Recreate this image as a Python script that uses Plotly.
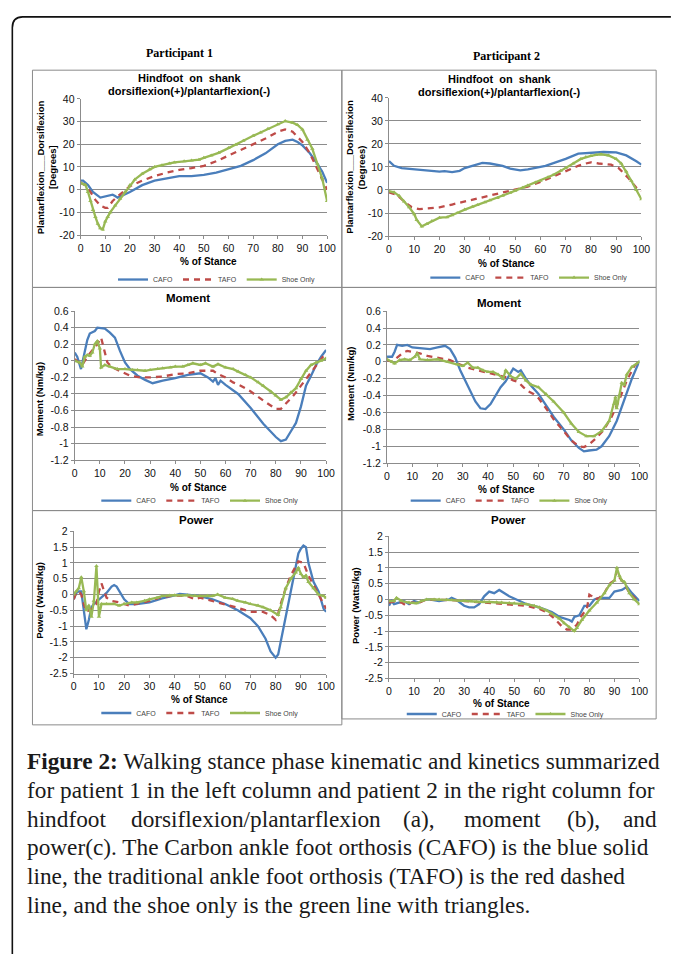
import plotly.graph_objects as go

W, H = 673, 956

# ---------------- DATA ----------------
SERIES_NAMES = ["CAFO", "TAFO", "Shoe Only"]
X_TICKS = [0, 10, 20, 30, 40, 50, 60, 70, 80, 90, 100]
X_TICK_TEXT = ["0", "10", "20", "30", "40", "50", "60", "70", "80", "90", "100"]
ANGLE_TICKS = [-20, -10, 0, 10, 20, 30, 40]
ANGLE_TICK_TEXT = ["-20", "-10", "0", "10", "20", "30", "40"]
MOMENT_TICKS = [-1.2, -1.0, -0.8, -0.6, -0.4, -0.2, 0, 0.2, 0.4, 0.6]
MOMENT_TICK_TEXT = ["-1.2", "-1", "-0.8", "-0.6", "-0.4", "-0.2", "0", "0.2", "0.4", "0.6"]
POWER_TICKS = [-2.5, -2, -1.5, -1, -0.5, 0, 0.5, 1, 1.5, 2]
POWER_TICK_TEXT = ["-2.5", "-2", "-1.5", "-1", "-0.5", "0", "0.5", "1", "1.5", "2"]

# Participant 1 - hindfoot angle
P1_ANG_CAFO_X = [0, 1, 3, 5, 8, 10, 12, 13, 14, 15, 17, 20, 25, 30, 35, 40, 45, 50, 55, 60, 65, 70, 75, 80, 83, 86, 88, 90, 93, 96, 98, 100]
P1_ANG_CAFO_Y = [4, 4, 2, -1, -3.5, -3, -2.5, -2.2, -2.8, -3.5, -2.5, -1, 2, 4, 5, 6, 6, 6.5, 7.5, 9, 10.5, 13, 16, 20, 21.5, 22, 21, 19.5, 16, 11.5, 8, 3]
P1_ANG_TAFO_X = [0, 2, 4, 6, 8, 10, 11, 13, 15, 18, 20, 25, 30, 35, 40, 45, 50, 55, 60, 65, 70, 75, 80, 83, 86, 90, 93, 96, 98, 100]
P1_ANG_TAFO_Y = [3, 2, -1, -4.5, -7, -8, -8, -5, -3, -0.5, 1.5, 4, 6, 7.5, 8.7, 9.5, 10.5, 12.5, 15, 17.5, 20, 22.5, 25.5, 26.5, 25.5, 21, 16, 9, 4, 0]
P1_ANG_SHOE_X = [0, 2, 3, 4, 5, 6, 7, 8, 9, 10, 11, 12, 14, 16, 18, 20, 22, 25, 28, 30, 33, 36, 38, 42, 45, 48, 50, 53, 56, 60, 63, 66, 70, 73, 76, 80, 83, 86, 88, 90, 92, 94, 96, 98, 100]
P1_ANG_SHOE_Y = [3, 2, -1, -5, -9, -12, -15, -17, -17.5, -14, -12, -10, -7, -4, -1, 2, 4.5, 7, 9, 10, 10.8, 11.5, 12, 12.5, 12.8, 13.2, 14, 15, 16.2, 18.3, 19.8, 21.5, 23.7, 25.2, 26.8, 28.8, 30.2, 29.5, 28.5, 26.5, 22, 18, 11.5, 5, -5]

# Participant 2 - hindfoot angle
P2_ANG_CAFO_X = [0, 2, 5, 10, 15, 20, 22, 25, 28, 30, 33, 37, 40, 45, 48, 52, 55, 58, 62, 66, 70, 75, 80, 85, 90, 94, 98, 100]
P2_ANG_CAFO_Y = [12.5, 10.5, 9.5, 9, 8.3, 8, 8.2, 7.8, 8.3, 9.5, 10.5, 11.8, 11.5, 10.5, 9.3, 8.5, 9, 9.7, 10.5, 12, 13.5, 15.8, 16.2, 16.5, 16.3, 15, 12.5, 11]
P2_ANG_TAFO_X = [0, 3, 6, 9, 12, 16, 20, 25, 30, 35, 40, 45, 48, 50, 55, 60, 65, 70, 75, 78, 80, 83, 88, 91, 95, 98, 100]
P2_ANG_TAFO_Y = [-1, -2, -5, -7.5, -8.3, -8, -7.5, -6.3, -5, -3.8, -2.5, -1, -0.5, 0, 1.5, 3.5, 5.8, 8.3, 10.5, 11.5, 12, 11.5, 11, 9.5, 5, 1, -0.5]
P2_ANG_SHOE_X = [0, 2, 4, 6, 8, 10, 11, 13, 15, 17, 20, 23, 25, 27, 30, 33, 35, 38, 40, 43, 45, 48, 50, 53, 55, 58, 60, 63, 65, 68, 70, 73, 76, 78, 80, 82, 84, 87, 90, 92, 94, 96, 98, 100]
P2_ANG_SHOE_Y = [-0.5, -1, -2.5, -5, -7.5, -10.5, -13, -15.8, -14.8, -13.5, -12, -11.8, -11, -10, -8.5, -7.3, -6.5, -5.3, -4.5, -3.5, -2.5, -1.2, -0.3, 1, 2, 3.2, 4, 5.5, 6.5, 8.3, 9.5, 11.5, 13.5, 14.3, 14.8, 15.2, 15.5, 15, 13.5, 11.5, 8, 4, 0, -4]

# Participant 1 - moment
P1_MOM_CAFO_X = [0, 1, 2.5, 4, 5, 6, 8, 9, 12, 14, 16, 18, 20, 22, 25, 28, 31, 35, 40, 45, 48, 50, 53, 55, 56, 57, 58, 60, 65, 70, 75, 80, 82, 84, 86, 88, 90, 92, 94, 96, 98, 100]
P1_MOM_CAFO_Y = [0.1, 0.05, -0.1, 0.1, 0.25, 0.33, 0.36, 0.4, 0.39, 0.34, 0.28, 0.12, -0.02, -0.1, -0.18, -0.23, -0.27, -0.24, -0.21, -0.17, -0.16, -0.15, -0.2, -0.25, -0.21, -0.29, -0.24, -0.29, -0.4, -0.57, -0.76, -0.92, -0.97, -0.95, -0.85, -0.75, -0.55, -0.3, -0.18, -0.05, 0.05, 0.13]
P1_MOM_TAFO_X = [0, 2, 3, 5, 7, 9, 10.5, 12, 13, 15, 18, 22, 26, 30, 35, 40, 45, 50, 55, 57, 60, 63, 66, 70, 75, 80, 82, 84, 87, 90, 93, 96, 100]
P1_MOM_TAFO_Y = [0.02, -0.03, -0.05, 0.05, 0.12, 0.2, 0.28, 0.1, -0.02, -0.08, -0.12, -0.18, -0.2, -0.2, -0.19, -0.16, -0.15, -0.12, -0.12, -0.16, -0.2, -0.26, -0.3, -0.37, -0.48, -0.58, -0.58, -0.52, -0.42, -0.3, -0.18, -0.05, 0.1]
P1_MOM_SHOE_X = [0, 2, 3, 4, 5, 6, 7, 8, 9, 10, 10.5, 12, 14, 17, 20, 23, 25, 28, 30, 33, 35, 38, 40, 43, 45, 47, 50, 52, 55, 57, 60, 63, 65, 68, 70, 73, 75, 78, 80, 82, 84, 86, 88, 90, 92, 94, 96, 98, 100]
P1_MOM_SHOE_Y = [0.0, -0.02, -0.07, 0.05, 0.07, 0.06, 0.1, 0.2, 0.24, 0.15, -0.08, -0.05, -0.07, -0.1, -0.1, -0.11, -0.11, -0.12, -0.11, -0.1, -0.09, -0.08, -0.07, -0.07, -0.05, -0.03, -0.05, -0.03, -0.07, -0.04, -0.08, -0.1, -0.13, -0.17, -0.2, -0.26, -0.3, -0.37, -0.42, -0.47, -0.44, -0.38, -0.33, -0.22, -0.12, -0.05, -0.02, 0.0, 0.03]

# Participant 2 - moment
P2_MOM_CAFO_X = [0, 2, 3, 4, 6, 8, 10, 14, 17, 20, 23, 25, 27, 29, 31, 33, 35, 37, 39, 41, 43, 45, 47, 49, 50, 52, 53, 55, 57, 60, 63, 66, 70, 73, 76, 78, 80, 83, 85, 88, 91, 94, 97, 100]
P2_MOM_CAFO_Y = [0.06, 0.06, 0.12, 0.2, 0.19, 0.2, 0.17, 0.16, 0.15, 0.17, 0.19, 0.15, 0.05, -0.1, -0.22, -0.35, -0.47, -0.55, -0.56, -0.5, -0.4, -0.3, -0.23, -0.13, -0.08, -0.12, -0.1, -0.2, -0.28, -0.38, -0.52, -0.65, -0.8, -0.93, -1.02, -1.06, -1.05, -1.04, -1.0, -0.88, -0.7, -0.45, -0.2, 0.01]
P2_MOM_TAFO_X = [0, 2, 4, 6, 8, 10, 13, 16, 20, 25, 28, 32, 36, 40, 45, 48, 50, 52, 54, 56, 58, 60, 63, 66, 70, 73, 76, 78, 80, 83, 86, 89, 92, 95, 98, 100]
P2_MOM_TAFO_Y = [0.02, 0.0, 0.05, 0.1, 0.13, 0.12, 0.1, 0.07, 0.05, 0.02, -0.02, -0.07, -0.1, -0.13, -0.16, -0.19, -0.22, -0.24, -0.3, -0.35, -0.38, -0.43, -0.55, -0.68, -0.82, -0.93, -1.0, -1.01, -0.98, -0.9, -0.8, -0.65, -0.45, -0.22, -0.05, 0.01]
P2_MOM_SHOE_X = [0, 2, 3, 5, 7, 9, 11, 12, 13, 16, 20, 24, 28, 30, 32, 34, 36, 38, 40, 42, 44, 46, 47, 49, 51, 53, 55, 57, 60, 63, 66, 70, 73, 76, 79, 82, 85, 88, 90, 90.5, 91, 92, 93, 94, 95, 97, 100]
P2_MOM_SHOE_Y = [0.03, 0.0, -0.02, 0.02, 0.03, 0.02, 0.06, 0.1, 0.03, 0.02, 0.03, 0.0, -0.03, -0.05, -0.01, -0.07, -0.07, -0.1, -0.12, -0.12, -0.15, -0.2, -0.1, -0.17, -0.2, -0.14, -0.22, -0.27, -0.3, -0.38, -0.47, -0.6, -0.73, -0.83, -0.88, -0.88, -0.82, -0.7, -0.5, -0.42, -0.55, -0.4, -0.25, -0.27, -0.15, -0.06, 0.0]

# Participant 1 - power
P1_POW_CAFO_X = [0, 1, 2, 3, 4, 4.5, 5, 6, 7, 8, 10, 12, 13, 15, 16, 17, 18, 20, 22, 25, 30, 35, 40, 42, 45, 50, 55, 60, 65, 70, 73, 76, 78, 80, 81, 82, 84, 86, 88, 89, 90, 91, 92, 93, 95, 97, 99, 100]
P1_POW_CAFO_Y = [-0.15, 0.05, 0.1, 0.1, -0.5, -0.9, -1.1, -0.8, -0.4, -0.3, -0.15, 0.0, 0.05, 0.25, 0.3, 0.25, 0.1, -0.15, -0.3, -0.3, -0.25, -0.12, -0.03, 0.02, 0.0, -0.05, -0.15, -0.3, -0.5, -0.75, -1.0, -1.4, -1.8, -2.0, -1.9, -1.5, -0.8, 0.0, 0.9, 1.3, 1.45, 1.55, 1.5, 1.0, 0.4, 0.1, -0.45, -0.55]
P1_POW_TAFO_X = [0, 1, 2, 3, 4, 5, 6, 7, 8, 9, 10, 11, 12, 13, 15, 18, 22, 25, 30, 35, 40, 45, 48, 50, 55, 60, 65, 70, 75, 78, 80, 81, 82, 84, 86, 88, 89, 91, 93, 95, 97, 99, 100]
P1_POW_TAFO_Y = [-0.15, 0.05, 0.1, 0.0, -0.3, -0.55, -0.5, -0.45, -0.4, -0.3, 0.1, 0.35, 0.1, -0.1, -0.2, -0.25, -0.35, -0.3, -0.2, -0.08, -0.03, -0.05, -0.15, -0.1, -0.2, -0.3, -0.42, -0.55, -0.55, -0.65, -0.8, -0.6, -0.3, 0.2, 0.6, 0.9, 1.05, 1.0, 0.6, 0.3, 0.0, -0.3, -0.45]
P1_POW_SHOE_X = [0, 1, 2, 3, 4, 5, 6, 7, 8, 9, 10, 11, 13, 16, 18, 20, 23, 25, 28, 30, 33, 35, 38, 40, 43, 45, 48, 50, 53, 55, 57, 60, 63, 65, 68, 70, 73, 75, 78, 81, 82, 84, 86, 88, 89, 90, 91, 92, 93, 95, 97, 99, 100]
P1_POW_SHOE_Y = [0.0, 0.1, 0.2, 0.55, 0.1, -0.5, -0.35, -0.7, -0.2, 0.9, -0.7, -0.3, -0.3, -0.3, -0.35, -0.3, -0.25, -0.25, -0.2, -0.15, -0.1, -0.05, -0.03, -0.02, -0.03, -0.02, -0.04, -0.05, -0.04, -0.05, 0.0, -0.1, -0.14, -0.2, -0.25, -0.3, -0.35, -0.4, -0.5, -0.65, -0.4, 0.2, 0.5, 0.7, 0.85, 0.65, 0.55, 0.6, 0.4, 0.2, 0.0, -0.05, -0.1]

# Participant 2 - power
P2_POW_CAFO_X = [0, 1, 2, 4, 6, 8, 10, 12, 14, 16, 20, 24, 25, 27, 30, 32, 34, 36, 38, 40, 42, 44, 46, 48, 50, 52, 55, 60, 65, 68, 70, 72, 73, 74, 76, 78, 80, 82, 84, 86, 88, 90, 93, 95, 97, 100]
P2_POW_CAFO_Y = [-0.2, -0.05, -0.15, -0.1, -0.05, -0.15, -0.05, -0.1, -0.02, 0.0, -0.05, 0.0, 0.05, -0.02, -0.2, -0.25, -0.25, -0.15, 0.1, 0.25, 0.2, 0.3, 0.2, 0.1, 0.03, -0.05, -0.15, -0.25, -0.4, -0.55, -0.6, -0.65, -0.7, -0.55, -0.5, -0.2, -0.2, 0.0, 0.05, 0.05, 0.05, 0.25, 0.3, 0.4, 0.2, -0.05]
P2_POW_TAFO_X = [0, 3, 5, 7, 9, 12, 15, 20, 25, 30, 35, 40, 45, 50, 55, 60, 63, 66, 69, 71, 73, 75, 77, 79, 80, 81, 82, 84, 86, 88, 90, 91, 92, 94, 96, 98, 100]
P2_POW_TAFO_Y = [-0.1, -0.05, -0.1, -0.2, -0.1, -0.1, 0.0, 0.0, -0.02, -0.05, -0.08, -0.1, -0.12, -0.15, -0.2, -0.3, -0.4, -0.6, -0.85, -0.95, -0.95, -0.8, -0.5, -0.3, 0.15, 0.1, 0.0, 0.05, 0.2, 0.5, 0.6, 0.9, 0.7, 0.5, 0.2, 0.05, -0.1]
P2_POW_SHOE_X = [0, 2, 3, 5, 8, 11, 13, 15, 18, 20, 23, 25, 28, 30, 33, 35, 38, 40, 43, 45, 48, 50, 53, 55, 58, 60, 63, 65, 68, 70, 72, 74, 75, 77, 80, 83, 86, 88, 90, 91, 92, 93, 94, 96, 98, 100]
P2_POW_SHOE_Y = [-0.05, -0.05, 0.05, -0.05, -0.1, -0.12, -0.05, 0.0, 0.0, 0.0, -0.01, -0.02, -0.04, -0.05, -0.06, -0.08, -0.08, -0.08, -0.09, -0.1, -0.11, -0.12, -0.13, -0.15, -0.2, -0.25, -0.35, -0.45, -0.6, -0.75, -0.88, -1.0, -0.9, -0.65, -0.35, -0.1, 0.2, 0.45, 0.6, 1.0, 0.75, 0.6, 0.55, 0.2, 0.0, -0.15]

# -------------- STYLE / LAYOUT --------------
COLORS = ["#4A7EBB", "#BE4B48", "#98B954"]
FONT = "Liberation Sans, Arial, sans-serif"
SERIF = "Liberation Serif, Times New Roman, serif"
GRID = "#8C8C8C"


def fx(p):
    return p / W


def fy(p):
    return 1 - p / H


# panels: (axis id, x0px, x1px, ytop px, ybottom px, yrange, ticks, ticktext)
PANELS = [
    ("", 79, 330, 94, 232, [-20, 40], ANGLE_TICKS, ANGLE_TICK_TEXT),
    ("2", 393, 650, 93, 233, [-20, 40], ANGLE_TICKS, ANGLE_TICK_TEXT),
    ("3", 73, 329, 309, 460, [-1.2, 0.6], MOMENT_TICKS, MOMENT_TICK_TEXT),
    ("4", 391, 648, 309, 463, [-1.2, 0.6], MOMENT_TICKS, MOMENT_TICK_TEXT),
    ("5", 72, 329, 532, 676, [-2.5, 2], POWER_TICKS, POWER_TICK_TEXT),
    ("6", 393, 648, 537, 681, [-2.5, 2], POWER_TICKS, POWER_TICK_TEXT),
]

DATA = [
    [(P1_ANG_CAFO_X, P1_ANG_CAFO_Y), (P1_ANG_TAFO_X, P1_ANG_TAFO_Y), (P1_ANG_SHOE_X, P1_ANG_SHOE_Y)],
    [(P2_ANG_CAFO_X, P2_ANG_CAFO_Y), (P2_ANG_TAFO_X, P2_ANG_TAFO_Y), (P2_ANG_SHOE_X, P2_ANG_SHOE_Y)],
    [(P1_MOM_CAFO_X, P1_MOM_CAFO_Y), (P1_MOM_TAFO_X, P1_MOM_TAFO_Y), (P1_MOM_SHOE_X, P1_MOM_SHOE_Y)],
    [(P2_MOM_CAFO_X, P2_MOM_CAFO_Y), (P2_MOM_TAFO_X, P2_MOM_TAFO_Y), (P2_MOM_SHOE_X, P2_MOM_SHOE_Y)],
    [(P1_POW_CAFO_X, P1_POW_CAFO_Y), (P1_POW_TAFO_X, P1_POW_TAFO_Y), (P1_POW_SHOE_X, P1_POW_SHOE_Y)],
    [(P2_POW_CAFO_X, P2_POW_CAFO_Y), (P2_POW_TAFO_X, P2_POW_TAFO_Y), (P2_POW_SHOE_X, P2_POW_SHOE_Y)],
]

# legend left edges / centers (px)
LEGEND_POS = [(112, 277), (430, 275), (95, 501), (410, 501), (95, 716), (406, 717)]

fig = go.Figure()
layout = dict(
    width=W, height=H, margin=dict(l=0, r=0, t=0, b=0),
    paper_bgcolor="white", plot_bgcolor="white",
    font=dict(family=FONT, color="#000000"),
)

for i, (aid, x0, x1, yt, yb, yr, tv, tt) in enumerate(PANELS):
    leg = "legend" if i == 0 else f"legend{i + 1}"
    for j, (xs, ys) in enumerate(DATA[i]):
        kw = dict(x=xs, y=ys, name=SERIES_NAMES[j], xaxis="x" + aid, yaxis="y" + aid,
                  legend=leg, showlegend=True, hoverinfo="skip")
        if j == 0:
            tr = go.Scatter(mode="lines", line=dict(color=COLORS[0], width=2.3), **kw)
        elif j == 1:
            tr = go.Scatter(mode="lines", line=dict(color=COLORS[1], width=2.3, dash="6px,5px"), **kw)
        else:
            tr = go.Scatter(mode="lines+markers", line=dict(color=COLORS[2], width=2.3),
                            marker=dict(symbol="triangle-up", size=4, color=COLORS[2]), **kw)
        fig.add_trace(tr)
    layout["xaxis" + aid] = dict(
        domain=[fx(x0), fx(x1)], range=[0, 100], anchor="y" + aid,
        tickvals=X_TICKS, ticktext=X_TICK_TEXT, ticks="outside", ticklen=3,
        tickcolor=GRID, showline=True, linecolor=GRID, linewidth=1,
        showgrid=False, zeroline=False, tickfont=dict(size=10.5, family=FONT, color="#111"),
    )
    layout["yaxis" + aid] = dict(
        domain=[fy(yb), fy(yt)], range=yr, anchor="x" + aid,
        tickvals=tv, ticktext=tt, ticks="outside", ticklen=3,
        tickcolor=GRID, showline=True, linecolor=GRID, linewidth=1,
        showgrid=True, gridcolor=GRID, gridwidth=1, zeroline=False,
        tickfont=dict(size=10.5, family=FONT, color="#111"),
    )
    lx, ly = LEGEND_POS[i]
    layout[leg] = dict(
        orientation="h", x=fx(lx), y=fy(ly), xanchor="left", yanchor="middle",
        font=dict(size=7, family=FONT, color="#444"), bgcolor="rgba(0,0,0,0)",
        itemwidth=30, tracegroupgap=0,
    )

annotations = []


def ann(text, x, y, size, bold=False, angle=0, family=FONT, xanchor="center", color="#000"):
    annotations.append(dict(
        text=("<b>%s</b>" % text) if bold else text, x=fx(x), y=fy(y), xref="paper", yref="paper",
        showarrow=False, textangle=angle, xanchor=xanchor, yanchor="middle",
        font=dict(size=size, family=family, color=color),
    ))


# Participant headings
ann("Participant 1", 180, 48, 12, bold=True, family=SERIF)
ann("Participant 2", 513, 51, 12, bold=True, family=SERIF)

# Chart titles
for cx, cy in [(190, 73), (506, 74)]:
    ann("Hindfoot  on  shank", cx, cy, 11, bold=True)
    ann("dorsiflexion(+)/plantarflexion(-)", cx, cy + 13, 11, bold=True)
ann("Moment", 188, 296, 11.5, bold=True)
ann("Moment", 505, 301, 11.5, bold=True)
ann("Power", 197, 521, 11.5, bold=True)
ann("Power", 515, 521, 11.5, bold=True)

# x-axis titles
for cx, cy in [(209, 259), (513, 261), (199, 488), (513, 490), (200, 702), (508, 706)]:
    ann("% of Stance", cx, cy, 10, bold=True)

# y-axis titles
ann("Plantarflexion___Dorsiflexion", 39, 163, 9.5, bold=True, angle=-90)
ann("[Degrees]", 51, 163, 9.5, bold=True, angle=-90)
ann("Plantarflexion___Dorsiflexion", 353, 163, 9.5, bold=True, angle=-90)
ann("(Degrees)", 365, 163, 9.5, bold=True, angle=-90)
ann("Moment (Nm/kg)", 37, 398, 9.5, bold=True, angle=-90)
ann("Moment (Nm/kg)", 354, 383, 9.5, bold=True, angle=-90)
ann("Power (Watts/kg)", 37, 602, 9.5, bold=True, angle=-90)
ann("Power (Watts/kg)", 359, 607, 9.5, bold=True, angle=-90)

# Caption
CAP = 23.3
CC = "#1a1a1a"
ann("<b>Figure 2:</b> Walking stance phase kinematic and kinetics summarized", 22, 765, CAP, family=SERIF, xanchor="left", color=CC)
ann("for patient 1 in the left column and patient 2 in the right column for", 22, 794, CAP, family=SERIF, xanchor="left", color=CC)
for word, wx in [("hindfoot", 22), ("dorsiflexion/plantarflexion", 128), ("(a),", 405), ("moment", 467), ("(b),", 572)]:
    ann(word, wx, 823, CAP, family=SERIF, xanchor="left", color=CC)
ann("and", 668, 823, CAP, family=SERIF, xanchor="right", color=CC)
ann("power(c). The Carbon ankle foot orthosis (CAFO) is the blue solid", 22, 852, CAP, family=SERIF, xanchor="left", color=CC)
ann("line, the traditional ankle foot orthosis (TAFO) is the red dashed", 22, 881, CAP, family=SERIF, xanchor="left", color=CC)
ann("line, and the shoe only is the green line with triangles.", 22, 910, CAP, family=SERIF, xanchor="left", color=CC)

layout["annotations"] = annotations

# panel frames and outer frame
shapes = []
BOX = "#8A8A8A"
for (x0, y0, x1, y1) in [(30, 65, 345, 285), (345, 65, 665, 285), (30, 285, 345, 511), (345, 285, 665, 511),
                         (30, 511, 345, 728), (345, 511, 665, 722)]:
    shapes.append(dict(type="rect", xref="paper", yref="paper", x0=fx(x0), x1=fx(x1), y0=fy(y1), y1=fy(y0),
                       line=dict(color=BOX, width=1)))
path = "M %f,%f L %f,%f Q %f,%f %f,%f L %f,%f" % (
    fx(9.5), fy(960), fx(9.5), fy(22), fx(9.5), fy(11), fx(20), fy(11), fx(680), fy(11))
shapes.append(dict(type="path", xref="paper", yref="paper", path=path, line=dict(color="#111", width=1.6)))
layout["shapes"] = shapes

fig.update_layout(**layout)
# remove the browser's default page margin so the figure fills the window exactly
fig.write_html("out.html", config={"displayModeBar": False},
               post_script="document.body.style.margin='0';document.body.style.overflow='hidden';")
